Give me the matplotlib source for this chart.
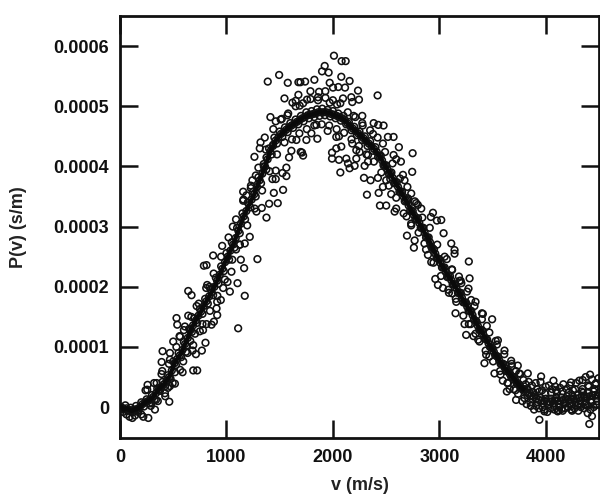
import numpy as np
import matplotlib
matplotlib.use("Agg")
import matplotlib.pyplot as plt

plt.rcParams['font.family'] = ['Liberation Sans', 'DejaVu Sans']

# values, P in units of 1e-6 s/m
core_v = [0, 25, 50, 75, 100, 125, 150, 175, 200, 225, 250, 275, 300, 325, 350, 375, 400, 425, 450, 475,
          500, 525, 550, 575, 600, 625, 650, 675, 700, 725, 750, 775, 800, 825, 850, 875, 900, 925, 950, 975,
          1000, 1025, 1050, 1075, 1100, 1125, 1150, 1175, 1200, 1225, 1250, 1275, 1300, 1325, 1350, 1375, 1400, 1425, 1450, 1475,
          1500, 1525, 1550, 1575, 1600, 1625, 1650, 1675, 1700, 1725, 1750, 1775, 1800, 1825, 1850, 1875, 1900, 1925, 1950, 1975,
          2000, 2025, 2050, 2075, 2100, 2125, 2150, 2175, 2200, 2225, 2250, 2275, 2300, 2325, 2350, 2375, 2400, 2425, 2450, 2475,
          2500, 2525, 2550, 2575, 2600, 2625, 2650, 2675, 2700, 2725, 2750, 2775, 2800, 2825, 2850, 2875, 2900, 2925, 2950, 2975,
          3000, 3025, 3050, 3075, 3100, 3125, 3150, 3175, 3200, 3225, 3250, 3275, 3300, 3325, 3350, 3375, 3400, 3425, 3450, 3475,
          3500, 3525, 3550, 3575, 3600, 3625, 3650, 3675, 3700, 3725, 3750, 3775, 3800, 3825, 3850, 3875, 3900, 3925, 3950, 3975,
          4000, 4025, 4050, 4075, 4100, 4125, 4150, 4175, 4200, 4225, 4250, 4275, 4300, 4325, 4350, 4375, 4400, 4425, 4450, 4475, 4500]
core_p = [0, -2, 3, -6, -1, -8, 2, -5, 8, 1, 13, 6, 20, 13, 31, 27, 42, 35, 53, 47,
          76, 70, 90, 83, 108, 102, 130, 125, 148, 140, 163, 155, 180, 172, 196, 186, 215, 205, 234, 226,
          256, 245, 274, 265, 298, 289, 322, 312, 340, 332, 358, 350, 382, 372, 404, 395, 430, 420, 448, 438,
          458, 449, 465, 457, 472, 464, 478, 470, 484, 475, 490, 480, 492, 482, 495, 484, 496, 485, 494, 483,
          492, 480, 488, 476, 484, 470, 474, 460, 466, 452, 458, 444, 450, 434, 442, 426, 432, 416, 418, 402,
          402, 388, 390, 372, 374, 358, 358, 342, 344, 326, 326, 312, 314, 298, 298, 282, 282, 266, 262, 248,
          246, 232, 232, 216, 218, 204, 204, 190, 190, 174, 174, 160, 160, 146, 142, 128, 128, 114, 112, 100,
          98, 86, 84, 72, 72, 60, 60, 50, 50, 40, 38, 30, 30, 20, 24, 14, 20, 8, 16, 6,
          14, 4, 14, 6, 16, 4, 16, 8, 18, 6, 20, 8, 20, 10, 24, 10, 24, 12, 26, 14, 24]

core2_v = [12, 37, 62, 87, 112, 137, 162, 187, 212, 237, 262, 287, 312, 337, 362, 387, 412, 437, 462, 487,
           512, 537, 562, 587, 612, 637, 662, 687, 712, 737, 762, 787, 812, 837, 862, 887, 912, 937, 962, 987,
           1012, 1037, 1062, 1087, 1112, 1137, 1162, 1187, 1212, 1237, 1262, 1287, 1312, 1337, 1362, 1387, 1412, 1437, 1462, 1487,
           1512, 1537, 1562, 1587, 1612, 1637, 1662, 1687, 1712, 1737, 1762, 1787, 1812, 1837, 1862, 1887, 1912, 1937, 1962, 1987,
           2012, 2037, 2062, 2087, 2112, 2137, 2162, 2187, 2212, 2237, 2262, 2287, 2312, 2337, 2362, 2387, 2412, 2437, 2462, 2487,
           2512, 2537, 2562, 2587, 2612, 2637, 2662, 2687, 2712, 2737, 2762, 2787, 2812, 2837, 2862, 2887, 2912, 2937, 2962, 2987,
           3012, 3037, 3062, 3087, 3112, 3137, 3162, 3187, 3212, 3237, 3262, 3287, 3312, 3337, 3362, 3387, 3412, 3437, 3462, 3487,
           3512, 3537, 3562, 3587, 3612, 3637, 3662, 3687, 3712, 3737, 3762, 3787, 3812, 3837, 3862, 3887, 3912, 3937, 3962, 3987,
           4012, 4037, 4062, 4087, 4112, 4137, 4162, 4187, 4212, 4237, 4262, 4287, 4312, 4337, 4362, 4387, 4412, 4437, 4462, 4487]
core2_p = [0, -4, -2, -5, -6, -4, -3, 0, 5, 8, 10, 13, 17, 23, 29, 34, 38, 44, 50, 61,
           73, 80, 86, 95, 105, 115, 128, 136, 144, 152, 159, 168, 176, 184, 191, 200, 210, 220, 230, 241,
           250, 260, 270, 281, 293, 305, 317, 326, 336, 345, 354, 366, 377, 388, 400, 412, 425, 434, 443, 448,
           454, 457, 461, 465, 468, 471, 474, 477, 480, 482, 485, 486, 487, 488, 490, 490, 490, 490, 489, 487,
           486, 484, 482, 480, 477, 472, 467, 463, 459, 455, 451, 447, 442, 438, 434, 429, 424, 417, 410, 402,
           395, 389, 381, 373, 366, 358, 350, 343, 335, 326, 319, 313, 306, 298, 290, 282, 274, 264, 255, 247,
           239, 232, 224, 217, 211, 204, 197, 190, 182, 174, 167, 160, 153, 144, 135, 128, 121, 113, 106, 99,
           92, 85, 78, 72, 66, 60, 55, 50, 45, 39, 34, 30, 25, 22, 19, 17, 14, 12, 11, 10,
           9, 9, 10, 11, 10, 10, 12, 13, 12, 13, 14, 14, 15, 17, 17, 17, 18, 19, 20, 19]

# rings just off the solid band
band_v = [320, 355, 390, 425, 460, 495, 530, 565, 600, 635, 670, 705, 740, 775, 810, 845, 880, 915, 950, 985,
          1020, 1055, 1090, 1125, 1160, 1195, 1230, 1265, 1300, 1335, 1370, 1405, 1440, 1475, 1510, 1545, 1580, 1615, 1650, 1685,
          1720, 1755, 1790, 1825, 1860, 1895, 1930, 1965, 2000, 2035, 2070, 2105, 2140, 2175, 2210, 2245, 2280, 2315, 2350, 2385,
          2420, 2455, 2490, 2525, 2560, 2595, 2630, 2665, 2700, 2735, 2770, 2805, 2840, 2875, 2910, 2945, 2980, 3015, 3050, 3085,
          3120, 3155, 3190, 3225, 3260, 3295, 3330, 3365, 3400, 3435, 3470, 3505, 3540, 3575, 3610, 3645, 3680, 3715, 3750]
band_p = [40, 10, 55, 18, 72, 40, 100, 62, 128, 90, 150, 122, 172, 138, 198, 160, 222, 185, 250, 212,
          282, 245, 312, 270, 345, 302, 368, 330, 398, 360, 428, 392, 462, 420, 478, 440, 488, 445, 500, 455,
          505, 462, 512, 468, 515, 470, 514, 468, 510, 462, 505, 456, 490, 445, 482, 434, 468, 420, 460, 408,
          448, 390, 424, 368, 405, 348, 380, 322, 366, 305, 342, 290, 315, 262, 298, 240, 270, 218, 250, 195,
          228, 180, 210, 152, 192, 138, 168, 112, 146, 94, 124, 76, 104, 54, 88, 40, 68, 28, 56]

peak_v = [2010, 2082, 2120, 1923, 1898, 1960, 1495, 1388, 1576, 1676, 1695, 1739, 1826, 2079, 2157, 1970, 2001, 2051, 2114, 2236,
          1929, 1870, 1789, 1676, 2420, 1545, 2095, 2173, 2245, 1860, 1757, 1651, 1620, 1970, 2039, 2182, 1688, 1413, 1463, 1520,
          1573, 2195, 2276, 2276, 2383, 2426, 2476, 2377, 2517, 2570, 2470, 2620, 2749, 2570, 2639, 2595, 2745, 2658, 2320, 2430,
          2548, 2442, 2501, 2580, 2692, 2798, 1845, 1798, 1854, 1751, 1657, 1951, 2032, 2057, 2182, 1710, 1698, 1720, 1610, 1588,
          1263, 1313, 1320, 1360, 1438, 1376, 1351, 1563, 1463, 1526, 1563, 1432, 1463, 1276, 1244, 1229, 1157, 1188, 1157, 1445,
          1532, 1401, 1482, 1332, 1282, 1376, 1992, 1992, 2057, 2032, 2079, 2220, 2126, 2220, 2330, 2157, 2204, 2298, 2070, 2292,
          2354, 2423, 2501, 2251, 2142, 2330, 2470, 2539, 2673, 2736, 2705, 2783, 2595]
peak_p = [584, 575, 575, 567, 558, 556, 552, 541, 539, 540, 540, 541, 544, 549, 542, 539, 531, 532, 531, 526,
          525, 524, 525, 519, 518, 513, 513, 515, 511, 510, 511, 509, 506, 506, 503, 507, 501, 482, 475, 479,
          485, 484, 484, 472, 472, 469, 468, 454, 449, 449, 438, 432, 422, 419, 408, 412, 391, 386, 353, 356,
          354, 335, 335, 325, 317, 336, 469, 455, 446, 444, 444, 459, 449, 450, 438, 423, 424, 418, 426, 415,
          416, 430, 440, 448, 436, 415, 400, 398, 393, 389, 384, 379, 379, 385, 377, 364, 358, 352, 343, 356,
          361, 338, 339, 331, 325, 315, 423, 413, 411, 430, 433, 427, 413, 413, 408, 397, 401, 401, 390, 381,
          377, 381, 377, 424, 405, 419, 366, 379, 377, 355, 347, 339, 330]

rise_v = [1291, 875, 788, 813, 1219, 1172, 1126, 1135, 1166, 1047, 1104, 1172, 641, 672, 1032, 969, 819, 947, 913, 907,
          913, 1110, 882, 813, 860, 750, 803, 769, 713, 688, 682, 531, 538, 641, 610, 500, 563, 400, 469, 391,
          469, 397, 594, 588, 516, 688, 725, 516, 469, 259, 256, 422, 463, 338, 297, 328, 266, 219, 116, 344, 375,
          30, 60, 90, 140, 170, 200, 240, 290, 450, 560, 620, 660, 720, 780, 840, 960, 1010, 1060, 1090]
rise_p = [246, 252, 235, 236, 283, 272, 270, 245, 231, 225, 206, 185, 193, 186, 192, 198, 203, 178, 175, 164,
          153, 131, 142, 138, 137, 126, 107, 94, 88, 103, 94, 148, 137, 152, 134, 109, 117, 93, 90, 75,
          79, 60, 76, 58, 58, 61, 61, 39, 35, 37, 29, 23, 9, 12, 7, -4, -18, -16, -18, 40, 29,
          -8, -12, -16, -14, -8, -12, 28, 2, 32, 118, 92, 110, 168, 128, 200, 268, 208, 300, 262]

fall_v = [2940, 3018, 2977, 2736, 3040, 2696, 2768, 2761, 3112, 3143, 3143, 2893, 2924, 3277, 3118, 2962, 2987, 3034, 3284, 3207,
          3274, 3184, 3121, 3159, 3299, 3340, 3152, 3409, 3496, 3237, 3277, 3252, 3321, 3446, 3377, 3550, 3612, 3424, 3440, 3518,
          3596, 3675, 3737, 3831, 3956, 4072, 3634, 3721, 3800, 3987, 3940, 4112, 4159, 4247, 4306, 4394, 4434, 4409, 4416, 4347,
          4237, 4472, 2830, 2860, 2920, 3070, 3090, 3200, 3340, 3400, 3470, 3530, 3570]
fall_p = [323, 311, 310, 302, 289, 285, 277, 265, 272, 261, 255, 253, 241, 242, 229, 213, 203, 198, 214, 206,
          197, 217, 189, 175, 178, 175, 156, 155, 146, 138, 138, 120, 118, 135, 109, 111, 94, 73, 87, 56,
          44, 77, 69, 56, 51, 44, 26, 12, 15, -7, -21, -7, -6, -6, -6, -10, -15, -28, 54, 45,
          41, 40, 330, 272, 316, 246, 190, 210, 122, 156, 84, 110, 60]

tail_v = [3620, 3640, 3660, 3680, 3700, 3720, 3740, 3760, 3780, 3790, 3810, 3820, 3840, 3860, 3870, 3890, 3905, 3920, 3935, 3950,
          3965, 3985, 4000, 4015, 4030, 4045, 4060, 4080, 4090, 4105, 4120, 4135, 4150, 4165, 4180, 4195, 4210, 4225, 4240, 4255,
          4270, 4285, 4300, 4315, 4330, 4345, 4360, 4375, 4390, 4405, 4420, 4435, 4450, 4465, 4480, 4495,
          3830, 3855, 3880, 3910, 3940, 3970, 3995, 4020, 4050, 4075, 4098, 4128, 4156, 4188, 4215, 4245, 4275, 4305, 4338, 4368, 4398, 4428, 4458, 4488]
tail_p = [70, 40, 30, 72, 30, 60, 22, 55, 10, 45, 38, 5, 42, 2, 36, -4, 40, 30, -2, 42,
          28, -4, 34, -8, 36, -2, 30, -4, 34, 24, -5, 32, -3, 38, -2, 30, 0, 36, -4, 28,
          -2, 40, 2, 44, 0, 30, -2, 50, 2, 34, -4, 46, 0, 38, 4, 48,
          30, 8, 25, 2, 26, 0, 22, 4, 24, 2, 28, 0, 26, 6, 24, 2, 30, 6, 26, 4, 36, 8, 30, 10]

x_ticks = [0, 1000, 2000, 3000, 4000]
y_ticks = [0, 0.0001, 0.0002, 0.0003, 0.0004, 0.0005, 0.0006]
y_labels = ['0', '0.0001', '0.0002', '0.0003', '0.0004', '0.0005', '0.0006']

v = np.array(core_v + core2_v + band_v + peak_v + rise_v + fall_v + tail_v)
p = np.array(core_p + core2_p + band_p + peak_p + rise_p + fall_p + tail_p) * 1e-6

fig = plt.figure(figsize=(6, 4.94), dpi=100)
ax = fig.add_axes([120 / 600, 1 - 438 / 494, 479 / 600, (438 - 16) / 494])

ax.scatter(v, p, s=23, facecolors='none', edgecolors='#111111', linewidths=1.15, zorder=2)

# the densest rings merge into a solid band
dense = np.array(core2_v) < 3800
ax.plot(np.array(core2_v)[dense], np.array(core2_p)[dense] * 1e-6, color='#0a0a0a', lw=3.2, zorder=3)

ax.set_xlim(0, 4500)
ax.set_ylim(-0.0000513, 0.000650)
ax.set_xticks(x_ticks)
ax.set_yticks(y_ticks)
ax.set_yticklabels(y_labels)

ax.tick_params(direction='in', length=13, width=1.8, top=True, right=True, pad=8,
               labelsize=13, colors='#111111')
for lab in ax.get_xticklabels() + ax.get_yticklabels():
    lab.set_fontweight('bold')
for s in ax.spines.values():
    s.set_linewidth(2.0)
    s.set_color('#111111')

ax.set_xlabel('v (m/s)', fontsize=13, fontweight='bold', color='#222222', labelpad=8)
ax.set_ylabel('P(v) (s/m)', fontsize=13, fontweight='bold', color='#222222', labelpad=19)

fig.savefig('out.png', dpi=100)
